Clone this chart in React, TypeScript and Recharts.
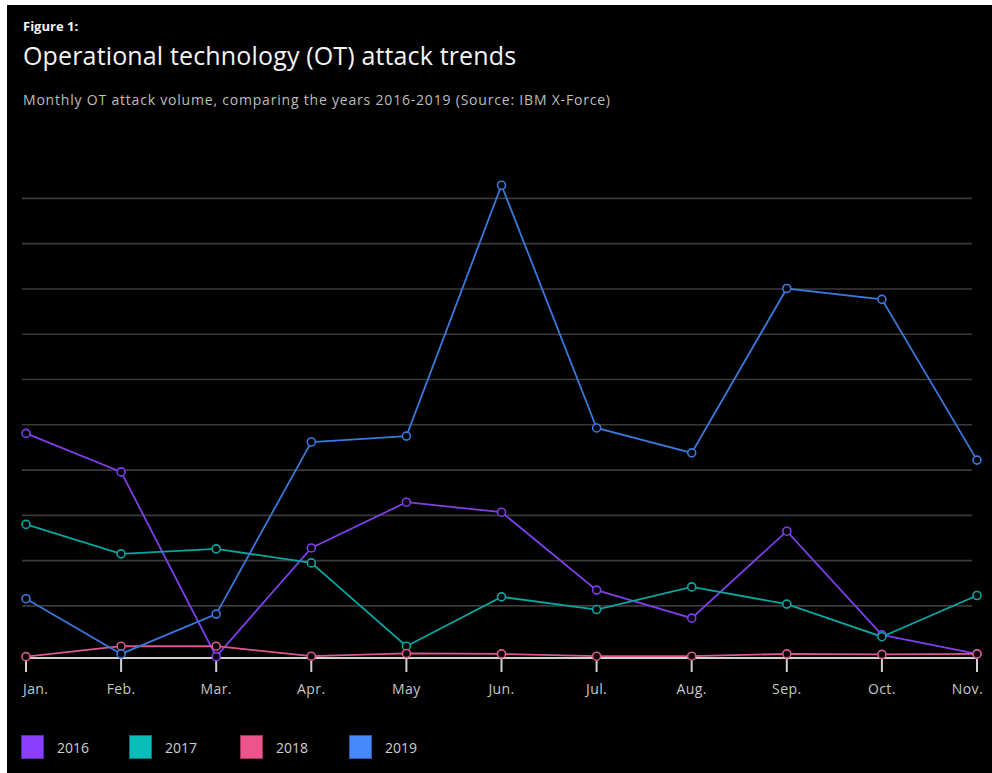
import React from "react";
import {
  LineChart,
  Line,
  XAxis,
  YAxis,
  CartesianGrid,
} from "recharts";

// Monthly OT attack volume (relative units, no y labels in source)
const months = ["Jan.", "Feb.", "Mar.", "Apr.", "May", "Jun.", "Jul.", "Aug.", "Sep.", "Oct.", "Nov."];
const y2016 = [49.6, 41.1, 0.3, 24.3, 34.4, 32.2, 15.0, 8.8, 28.0, 5.1, 0.9];
const y2017 = [29.5, 23.0, 24.1, 21.0, 2.6, 13.5, 10.7, 15.7, 11.9, 4.7, 13.8];
const y2018 = [0.3, 2.6, 2.6, 0.4, 1.0, 0.9, 0.4, 0.4, 0.9, 0.8, 0.9];
const y2019 = [13.1, 0.9, 9.7, 47.7, 49.0, 104.4, 50.8, 45.3, 81.6, 79.2, 43.7];
const gridValues = [11.5, 21.5, 31.5, 41.5, 51.5, 61.5, 71.5, 81.5, 91.5, 101.5];

const series = [
  { key: "2016", line: "#7f3ee8", swatch: "#8a3ffc" },
  { key: "2017", line: "#0aa5a2", swatch: "#08bdba" },
  { key: "2018", line: "#d9588f", swatch: "#ee538b" },
  { key: "2019", line: "#3a78dc", swatch: "#4589ff" },
];

const data = months.map((m, i) => ({
  month: m,
  "2016": y2016[i],
  "2017": y2017[i],
  "2018": y2018[i],
  "2019": y2019[i],
}));

const FONT = "'Open Sans', 'Noto Sans', sans-serif";

function MonthTick(props: any) {
  const { x, y, payload, index } = props;
  const last = months.length - 1;
  const anchor = index === 0 ? "start" : index === last ? "end" : "middle";
  const dx = index === 0 ? -3 : index === last ? 6 : 0;
  return (
    <text
      x={x + dx}
      y={y + 8}
      textAnchor={anchor}
      fill="#c6c6c6"
      fontSize={14}
      letterSpacing={0.4}
      fontFamily={FONT}
      dominantBaseline="middle"
    >
      {payload.value}
    </text>
  );
}

function GridLine(props: any) {
  const { x1, x2, y1, y2 } = props;
  return <line x1={x1 - 4} x2={x2 - 5} y1={y1} y2={y2} stroke="#3a3a3a" strokeWidth={1.6} />;
}

function ChartLegend() {
  const xs = [21, 129, 240, 349];
  return (
    <div style={{ position: "absolute", left: 0, top: 735, width: 500, height: 26 }}>
      {series.map((s, i) => (
        <div key={s.key} style={{ position: "absolute", left: xs[i], top: 0, display: "flex", alignItems: "center" }}>
          <div
            style={{
              width: 23,
              height: 24,
              background: s.swatch,
              boxSizing: "border-box",
              border: "1px solid rgba(0,0,0,0.35)",
            }}
          />
          <span style={{ marginLeft: 13, color: "#d0d0d0", fontSize: 14, fontFamily: FONT }}>{s.key}</span>
        </div>
      ))}
    </div>
  );
}

export default function App() {
  return (
    <div style={{ position: "absolute", left: 0, top: 0, width: 992, height: 773, background: "#fff" }}>
      <div style={{ position: "absolute", left: 7, top: 5, width: 985, height: 768, background: "#000" }} />
      <div style={{ position: "absolute", left: 23, top: 17, color: "#f4f4f4", fontFamily: FONT }}>
        <div style={{ fontSize: 13, fontWeight: 700, lineHeight: "18px" }}>Figure 1:</div>
        <div style={{ fontSize: 25, fontWeight: 400, lineHeight: "34px", marginTop: 3, letterSpacing: 0.15 }}>
          Operational technology (OT) attack trends
        </div>
        <div
          style={{
            fontSize: 14,
            color: "#bdbdbd",
            marginTop: 19,
            lineHeight: "18px",
            letterSpacing: 0.8,
          }}
        >
          Monthly OT attack volume, comparing the years 2016-2019 (Source: IBM X-Force)
        </div>
      </div>
      <div style={{ position: "absolute", left: 0, top: 0 }}>
        <LineChart
          width={992}
          height={773}
          data={data}
          margin={{ top: 178, right: 15, left: 26, bottom: 85 }}
        >
          <CartesianGrid
            vertical={false}
            horizontalValues={gridValues}
            horizontal={GridLine as any}
            stroke="#3a3a3a"
          />
          <YAxis hide domain={[0, 106]} ticks={gridValues} />
          <XAxis
            dataKey="month"
            interval={0}
            height={30}
            axisLine={{ stroke: "#d0d0d0", strokeWidth: 2 }}
            tickLine={{ stroke: "#d0d0d0", strokeWidth: 2 }}
            tickSize={14}
            tickMargin={10}
            tick={<MonthTick />}
          />
          {series.map((s) => (
            <Line
              key={s.key}
              dataKey={s.key}
              type="linear"
              stroke={s.line}
              strokeWidth={1.8}
              dot={{ r: 4, fill: "#000", stroke: s.line, strokeWidth: 1.6 }}
              activeDot={false}
              isAnimationActive={false}
            />
          ))}
        </LineChart>
      </div>
      <ChartLegend />
    </div>
  );
}
